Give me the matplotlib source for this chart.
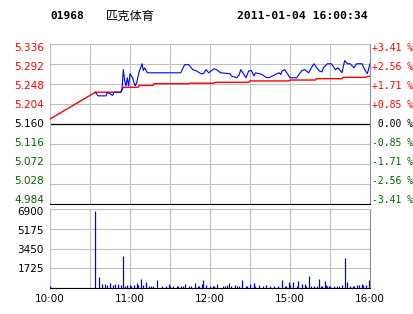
import matplotlib
matplotlib.use("Agg")
import matplotlib.pyplot as plt

# intraday minutes from 10:00 (lunch break removed), 240 = 16:00
price_t = [34, 36, 42, 43, 47, 48, 53, 54, 55, 56, 57, 58, 59, 60, 61, 62, 63, 64, 65, 67,
           68, 69, 70, 71, 73, 98, 101, 104, 107, 110, 113, 115, 117, 119, 123, 125, 128, 135,
           136, 140, 142, 143, 145, 147, 149, 151, 153, 154, 157, 159, 162, 164, 167, 170, 172,
           173, 174, 176, 178, 180, 185, 187, 189, 191, 194, 196, 198, 200, 202, 204, 205, 208,
           211, 214, 216, 219, 221, 223, 225, 228, 230, 234, 236, 238, 240]
price_v = [5.230, 5.222, 5.222, 5.230, 5.223, 5.230, 5.230, 5.236, 5.280, 5.255, 5.244, 5.262,
           5.244, 5.271, 5.266, 5.262, 5.251, 5.244, 5.251, 5.277, 5.284, 5.293, 5.278, 5.284,
           5.273, 5.273, 5.291, 5.291, 5.280, 5.277, 5.271, 5.271, 5.280, 5.273, 5.282, 5.280,
           5.273, 5.271, 5.266, 5.262, 5.269, 5.280, 5.271, 5.262, 5.277, 5.278, 5.266, 5.273,
           5.271, 5.269, 5.263, 5.262, 5.266, 5.271, 5.273, 5.269, 5.277, 5.280, 5.271, 5.262,
           5.262, 5.271, 5.278, 5.280, 5.273, 5.284, 5.293, 5.284, 5.277, 5.275, 5.284, 5.293,
           5.293, 5.280, 5.284, 5.273, 5.300, 5.293, 5.293, 5.284, 5.293, 5.293, 5.280, 5.271,
           5.293]

avg_t = [0, 34, 53, 55, 66, 67, 77, 78, 104, 105, 123, 124, 149, 150, 179, 180, 199, 200,
         219, 220, 237, 238, 240]
avg_v = [5.171, 5.230, 5.230, 5.241, 5.241, 5.245, 5.245, 5.249, 5.249, 5.250, 5.250, 5.252,
         5.252, 5.255, 5.255, 5.257, 5.257, 5.260, 5.260, 5.263, 5.263, 5.265, 5.265]

vol_t = [0, 34, 37, 39, 41, 43, 45, 47, 49, 51, 53, 55, 56, 58, 60, 61, 63, 65, 66, 68, 70, 72,
         74, 76, 77, 80, 84, 87, 89, 90, 92, 95, 96, 98, 100, 101, 104, 106, 109, 111, 112, 114,
         115, 117, 120, 122, 123, 125, 130, 131, 133, 134, 136, 139, 140, 142, 144, 147, 148,
         150, 153, 154, 157, 160, 162, 165, 168, 171, 174, 176, 177, 179, 180, 182, 185, 186,
         189, 191, 192, 194, 196, 198, 200, 202, 203, 204, 206, 207, 208, 209, 210, 213, 215,
         217, 219, 221, 223, 225, 227, 228, 230, 232, 234, 235, 237, 239, 240]
vol_v = [175, 6750, 990, 350, 350, 260, 440, 260, 350, 350, 260, 2820, 175, 260, 260, 175, 260,
         440, 260, 790, 260, 525, 175, 175, 175, 700, 175, 175, 350, 175, 175, 175, 175, 175,
         175, 350, 175, 175, 440, 175, 175, 350, 700, 260, 175, 175, 175, 350, 175, 175, 260,
         440, 175, 260, 175, 175, 700, 175, 175, 350, 440, 175, 260, 175, 260, 175, 175, 175,
         700, 175, 175, 525, 260, 525, 175, 615, 350, 350, 175, 1050, 175, 175, 175, 790, 175,
         175, 615, 260, 175, 175, 175, 175, 175, 175, 260, 2650, 525, 175, 175, 175, 260, 260,
         350, 260, 260, 700, 175]

prev_close = 5.160
price_ticks = [5.336, 5.292, 5.248, 5.204, 5.160, 5.116, 5.072, 5.028, 4.984]
price_labels = ["5.336", "5.292", "5.248", "5.204", "5.160", "5.116", "5.072", "5.028", "4.984"]
pct_labels = ["+3.41 %", "+2.56 %", "+1.71 %", "+0.85 %", " 0.00 %",
              "-0.85 %", "-1.71 %", "-2.56 %", "-3.41 %"]
vol_ticks = [0, 1725, 3450, 5175, 6900]
vol_labels = ["", "1725", "3450", "5175", "6900"]
time_ticks = [0, 60, 120, 180, 240]
time_labels = ["10:00", "11:00", "12:00", "15:00", "16:00"]

RED = "#ff0000"
GREEN = "#006600"
GRID = "#c0c0c0"

fig = plt.figure(figsize=(4.14, 3.14), dpi=100)
W, H = 414, 314
ax = fig.add_axes([50 / W, 1 - 203.5 / H, 320 / W, 159.2 / H])
axv = fig.add_axes([50 / W, 1 - 288 / H, 320 / W, 79 / H])

# header
fig.text(50 / W, 1 - 16 / H, "01968", family="DejaVu Sans Mono", weight="bold",
         fontsize=8, va="center")
fig.text(106 / W, 1 - 16 / H, "匹克体育", family=["Noto Sans CJK SC", "DejaVu Sans"],
         fontsize=8.8, va="center")
fig.text(237 / W, 1 - 16 / H, "2011-01-04 16:00:34", family="DejaVu Sans Mono",
         weight="bold", fontsize=8.2, va="center")

# price panel
ax.set_xlim(0, 240)
ax.set_ylim(4.984, 5.336)
ax.set_xticks(range(0, 241, 30))
ax.set_yticks(price_ticks)
ax.grid(color=GRID, lw=0.8)
ax.tick_params(length=0, labelbottom=False, labelleft=False)
ax.axhline(prev_close, color="black", lw=0.9, zorder=2)
ax.plot(avg_t, avg_v, color=RED, lw=1.0, zorder=3)
ax.plot(price_t, price_v, color="#0000ff", lw=0.8, zorder=4)
for s in ["top", "left"]:
    ax.spines[s].set_color(GRID)
ax.spines["right"].set_color("#909090")
ax.spines["bottom"].set_color("black")
for s in ax.spines.values():
    s.set_linewidth(0.8)

# labels sit on a slightly tighter spacing than the grid
mid = len(price_ticks) // 2
step = (price_ticks[0] - price_ticks[1]) * 19.04 / 19.9
for i, (lab, pl) in enumerate(zip(price_labels, pct_labels)):
    k = mid - i
    yv = prev_close + k * step
    col = RED if k > 0 else ("black" if k == 0 else GREEN)
    ax.text(-6 / 320, yv, lab, transform=ax.get_yaxis_transform(), ha="right",
            va="center", fontsize=7.5, color=col)
    ax.text(1 + 2 / 320, yv, pl, transform=ax.get_yaxis_transform(), ha="left",
            va="center", fontsize=7, color=col, family="DejaVu Sans Mono")

# volume panel
axv.set_xlim(0, 240)
axv.set_ylim(0, 6900)
axv.set_xticks(range(0, 241, 30))
axv.set_xticklabels([time_labels[time_ticks.index(t)] if t in time_ticks else ""
                     for t in range(0, 241, 30)], fontsize=7.5)
axv.set_yticks(vol_ticks)
axv.set_yticklabels([])
axv.grid(color=GRID, lw=0.8)
axv.tick_params(length=0, pad=4.5)
axv.vlines(vol_t, 0, vol_v, color="#0000ff", lw=0.9, zorder=3)
vstep = vol_ticks[1] * 19.0 / 19.75
for i, lab in enumerate(vol_labels):
    if lab:
        axv.text(-6 / 320, i * vstep, lab, transform=axv.get_yaxis_transform(),
                 ha="right", va="center", fontsize=7.5, color="black")
for s in ["top", "left"]:
    axv.spines[s].set_color(GRID)
axv.spines["right"].set_color("#909090")
axv.spines["bottom"].set_color("black")
for s in axv.spines.values():
    s.set_linewidth(0.8)

fig.savefig("out.png", dpi=100, facecolor="white")
